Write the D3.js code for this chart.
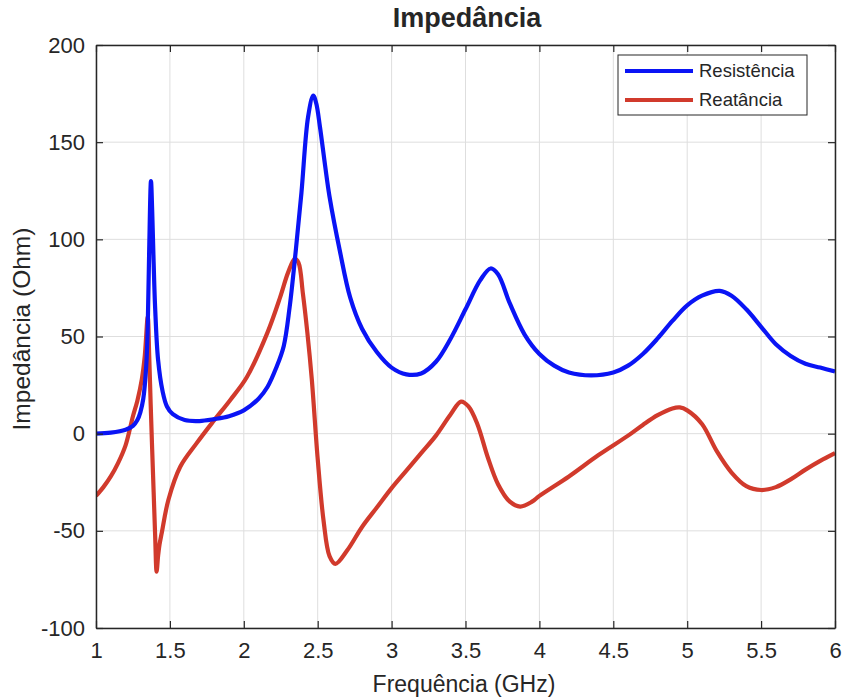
<!DOCTYPE html>
<html><head><meta charset="utf-8">
<script src="https://cdn.jsdelivr.net/npm/d3@7"></script>
<style>body{margin:0;background:#fff;} svg{display:block;}</style>
</head><body>
<svg id="chart" width="843" height="699"></svg>
<script>
const title = "Impedância";
const xLabel = "Frequência (GHz)";
const yLabel = "Impedância (Ohm)";
const seriesNames = ["Resistência", "Reatância"];
const xTicks = [1,1.5,2,2.5,3,3.5,4,4.5,5,5.5,6];
const yTicks = [-100,-50,0,50,100,150,200];

const resFreq = [1.0,1.1,1.2,1.25,1.28,1.3,1.32,1.34,1.35,1.36,1.372,1.38,1.39,1.40,1.42,1.45,1.48,1.52,1.6,1.7,1.8,1.9,2.0,2.1,2.16,2.22,2.27,2.31,2.35,2.39,2.435,2.47,2.49,2.515,2.55,2.58,2.65,2.72,2.8,2.9,3.0,3.1,3.2,3.3,3.4,3.5,3.6,3.67,3.72,3.8,3.9,4.0,4.1,4.2,4.35,4.5,4.6,4.7,4.8,4.9,5.0,5.1,5.22,5.3,5.4,5.5,5.6,5.7,5.8,5.9,6.0];
const resVal = [0,0.5,2,4,7,11,18,35,55,95,130,115,88,65,38,22,14,10,7,6.5,7.5,9,12,18,24,34,45,65,93,124,163,174,170,158,138,122,94,70,54,42,34,30.5,31,37,49,64,79,85,82,67,51,41,35,31.5,30,31.5,35,41,49,58,66,71,73.5,71,64,55,46,40,36,34,32];

const reaFreq = [1.0,1.05,1.1,1.15,1.2,1.25,1.28,1.31,1.33,1.35,1.36,1.37,1.38,1.39,1.40,1.41,1.42,1.43,1.445,1.49,1.57,1.68,1.79,1.91,2.02,2.16,2.245,2.3,2.345,2.37,2.40,2.43,2.46,2.5,2.54,2.58,2.62,2.7,2.8,2.9,3.0,3.1,3.2,3.3,3.4,3.47,3.52,3.58,3.65,3.72,3.8,3.87,3.95,4.0,4.2,4.4,4.6,4.7,4.8,4.9,4.95,5.0,5.1,5.2,5.3,5.4,5.5,5.6,5.7,5.8,5.9,6.0];
const reaVal = [-32,-27.5,-22,-15,-6,9,17,28,40,60,40,15,-8,-30,-52,-71,-63,-57,-51,-34,-17,-5,6,17.5,29,52,70,83,90,88,72,52,28,-13,-45,-63,-67,-60,-48,-38,-28,-19,-10,-1,10,16.5,14,5,-12,-26,-35,-37.5,-35,-32,-22,-11,-1,4.5,9.5,13,13.5,12,5,-9,-20,-27,-29,-27.5,-23.5,-18.5,-14,-10];

const colors = ["#0a14f5", "#d13a2c"];

const svg = d3.select("#chart");
const L = 96, R = 835, T = 45, B = 628;
const x = d3.scaleLinear().domain([1,6]).range([L,R]);
const y = d3.scaleLinear().domain([-100,200]).range([B,T]);

const g = svg.append("g");
g.selectAll(".gx").data(xTicks).enter().append("line")
  .attr("x1", d=>x(d)).attr("x2", d=>x(d)).attr("y1", T).attr("y2", B)
  .attr("stroke", "#dedede").attr("stroke-width", 1);
g.selectAll(".gy").data(yTicks).enter().append("line")
  .attr("y1", d=>y(d)).attr("y2", d=>y(d)).attr("x1", L).attr("x2", R)
  .attr("stroke", "#dedede").attr("stroke-width", 1);

svg.append("clipPath").attr("id","clip").append("rect").attr("x",L).attr("y",T).attr("width",R-L).attr("height",B-T);

const line = d3.line().x(d=>x(d[0])).y(d=>y(d[1])).curve(d3.curveCatmullRom.alpha(0.5));
const resData = resFreq.map((f,i)=>[f,resVal[i]]);
const reaData = reaFreq.map((f,i)=>[f,reaVal[i]]);

const lines = svg.append("g").attr("clip-path","url(#clip)");
lines.append("path").datum(reaData).attr("d", line).attr("fill","none")
  .attr("stroke", colors[1]).attr("stroke-width", 4.2).attr("stroke-linejoin","round");
lines.append("path").datum(resData).attr("d", line).attr("fill","none")
  .attr("stroke", colors[0]).attr("stroke-width", 4.2).attr("stroke-linejoin","round");

const font = "'Liberation Sans', Arial, sans-serif";
const axB = d3.axisBottom(x).tickValues(xTicks).tickSizeInner(-7).tickSizeOuter(0).tickPadding(14)
  .tickFormat(d=>String(d));
const axT = d3.axisTop(x).tickValues(xTicks).tickSizeInner(-7).tickSizeOuter(0).tickFormat("");
const axL = d3.axisLeft(y).tickValues(yTicks).tickSizeInner(-7).tickSizeOuter(0).tickPadding(11)
  .tickFormat(d=>String(d));
const axR = d3.axisRight(y).tickValues(yTicks).tickSizeInner(-7).tickSizeOuter(0).tickFormat("");

function style(sel){
  sel.selectAll("path").attr("stroke","#262626").attr("stroke-width",1.5);
  sel.selectAll("line").attr("stroke","#262626").attr("stroke-width",1.2);
  sel.selectAll("text").attr("fill","#262626").style("font-family",font).style("font-size","22px");
}
svg.append("g").attr("transform",`translate(0,${B})`).call(axB).call(style);
svg.append("g").attr("transform",`translate(0,${T})`).call(axT).call(style);
svg.append("g").attr("transform",`translate(${L},0)`).call(axL).call(style);
svg.append("g").attr("transform",`translate(${R},0)`).call(axR).call(style);

svg.append("text").attr("x", 467).attr("y", 27).attr("text-anchor","middle")
  .style("font-family",font).style("font-size","27px").style("font-weight","bold").attr("fill","#262626").text(title);
svg.append("text").attr("x", 464).attr("y", 692).attr("text-anchor","middle")
  .style("font-family",font).style("font-size","23px").attr("fill","#262626").text(xLabel);
svg.append("text").attr("transform",`translate(30,329) rotate(-90)`).attr("text-anchor","middle")
  .style("font-family",font).style("font-size","24.5px").attr("fill","#262626").text(yLabel);

const lg = svg.append("g");
lg.append("rect").attr("x",618).attr("y",55).attr("width",189).attr("height",60)
  .attr("fill","#fff").attr("stroke","#262626").attr("stroke-width",1);
seriesNames.forEach((n,i)=>{
  const yy = 71 + i*29;
  lg.append("line").attr("x1",625).attr("x2",693).attr("y1",yy).attr("y2",yy)
    .attr("stroke",colors[i]).attr("stroke-width",4.2);
  lg.append("text").attr("x",699).attr("y",yy+6).style("font-family",font).style("font-size","18.5px")
    .attr("fill","#262626").text(n);
});
</script>
</body></html>
